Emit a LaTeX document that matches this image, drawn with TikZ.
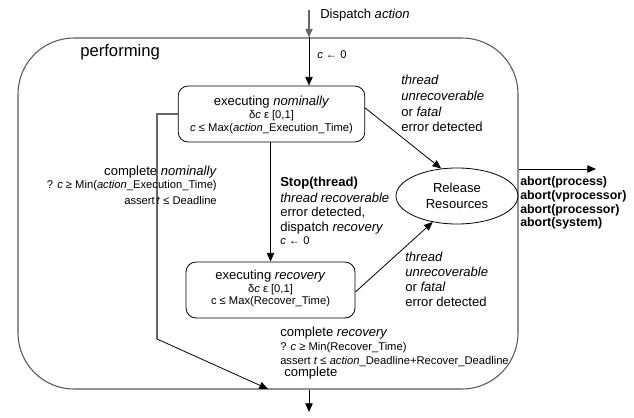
\documentclass[tikz,border=0pt]{standalone}
\usepackage{fontspec}
\setmainfont{Liberation Sans}
\usetikzlibrary{arrows.meta,shapes.geometric,calc}
\newcommand\fa{\fontsize{9.8}{11.8}\selectfont}
\newcommand\fb{\fontsize{8.4}{10}\selectfont}
\newcommand\fab{\fontsize{9.3}{10.3}\selectfont\bfseries}
\begin{document}
\begin{tikzpicture}[x=0.75pt,y=-0.75pt,
  tip/.style={-{Triangle[length=6.5pt,width=5.5pt]}},
  ln/.style={draw=black,line width=0.6pt},
  gln/.style={draw=black!60,line width=0.8pt},
  statebox/.style={draw=black,line width=0.6pt,rounded corners=7.5pt,minimum width=140pt,minimum height=42pt,inner sep=0pt},
  txt/.style={inner sep=0pt,anchor=west,font=\fa},
  stxt/.style={inner sep=0pt,anchor=west,font=\fb},
  ctxt/.style={inner sep=0pt,anchor=center},
  rtxt/.style={inner sep=0pt,anchor=east}]
\useasboundingbox (0,0) rectangle (634,417);
% outer state
\node[draw=black!65,line width=0.8pt,rounded corners=42pt,minimum width=375pt,minimum height=263.25pt,inner sep=0pt] (perf) at (268,213.5) {};
\node[inner sep=0pt,anchor=west,font=\fontsize{12.5}{14}\selectfont] (tperf) at (80,52) {performing};
% inner states
\node[statebox] (nom) at (271.5,114) {};
\node[ctxt,font=\fa] (nom1) at (271.5,102) {executing \textit{nominally}};
\node[ctxt,font=\fb] (nom2) at (271.5,116) {δ\textit{c} ε [0,1]};
\node[ctxt,font=\fb] (nom3) at (271.5,129) {\textit{c} ≤ Max(\textit{action}\_Execution\_Time)};
\node[statebox,minimum width=126.75pt] (rec) at (270.5,290) {};
\node[ctxt,font=\fa] (rec1) at (270.5,276) {executing \textit{recovery}};
\node[ctxt,font=\fb] (rec2) at (270.5,290) {δ\textit{c} ε [0,1]};
\node[ctxt,font=\fb] (rec3) at (270.5,302) {c ≤ Max(Recover\_Time)};
\node[draw=black,line width=0.6pt,ellipse,minimum width=91.5pt,minimum height=42pt,inner sep=0pt,align=center,font=\fa] (rel) at (457,196) {Release\\Resources};
% dispatch
\coordinate (d0) at (309,10);
\draw[gln,tip] (d0) -- (d0 |- perf.north);
\draw[ln,tip] (d0 |- perf.north) -- (d0 |- nom.north);
\node[txt] (tdisp) at (320,15) {Dispatch \textit{action}};
\node[stxt] (tc0) at (317,55) {\textit{c} ← 0};
% nominal -> release
\draw[ln,tip] ($(nom.east)+(0,-6)$) -- (rel.120);
\node[txt,align=left] (tup) at (401,103.5) {\textit{thread}\\\textit{unrecoverable}\\or \textit{fatal}\\error detected};
% recovery -> release
\draw[ln,tip] ($(rec.east)+(0,2)$) -- (rel.227);
\node[txt,align=left] (tlow) at (405,279) {\textit{thread}\\[-0.5pt]\textit{unrecoverable}\\[-0.5pt]or \textit{fatal}\\[-0.5pt]error detected};
% nominal -> recovery
\draw[ln,tip] (nom.south -| rec.north) -- (rec.north);
\node[txt,font=\fa\bfseries] (ts1) at (280,183) {Stop(thread)};
\node[txt] (ts2) at (280,197.5) {\textit{thread recoverable}};
\node[txt] (ts3) at (280,212.5) {error detected,};
\node[txt] (ts4) at (280,228) {dispatch \textit{recovery}};
\node[stxt] (ts5) at (280,240.5) {\textit{c} ← 0};
% complete nominally
\coordinate (lc) at (157,339);
\coordinate (le) at (268,389);
\draw[gln] (nom.west) -| (lc);
\draw[ln,tip] (lc) -- (le);
\node[rtxt,font=\fa] (tn1) at (217,172) {complete \textit{nominally}};
\node[rtxt,font=\fb] (tn2) at (217,186) {? \textit{c} ≥ Min(\textit{action}\_Execution\_Time)};
\node[rtxt,font=\fb] (tn3) at (217,200) {assert\,\textit{t} ≤ Deadline};
% complete recovery
\node[txt] (tr1) at (280,333) {complete \textit{recovery}};
\node[stxt] (tr2) at (280,348) {? \textit{c} ≥ Min(Recover\_Time)};
\node[stxt] (tr3) at (280,362) {assert \textit{t} ≤ \textit{action}\_Deadline+Recover\_Deadline};
\node[txt] (tr4) at (284,373) {complete};
% exits
\coordinate (bx) at (309,412);
\draw[ln,tip] (bx |- perf.south) -- (bx);
\coordinate (rx) at (596,169);
\draw[ln,tip] (perf.east |- rx) -- (rx);
\node[inner sep=0pt,anchor=north west,align=left,font=\fab] (tab) at (520,176.5) {abort(process)\\abort(vprocessor)\\abort(processor)\\abort(system)};
\end{tikzpicture}
\end{document}
